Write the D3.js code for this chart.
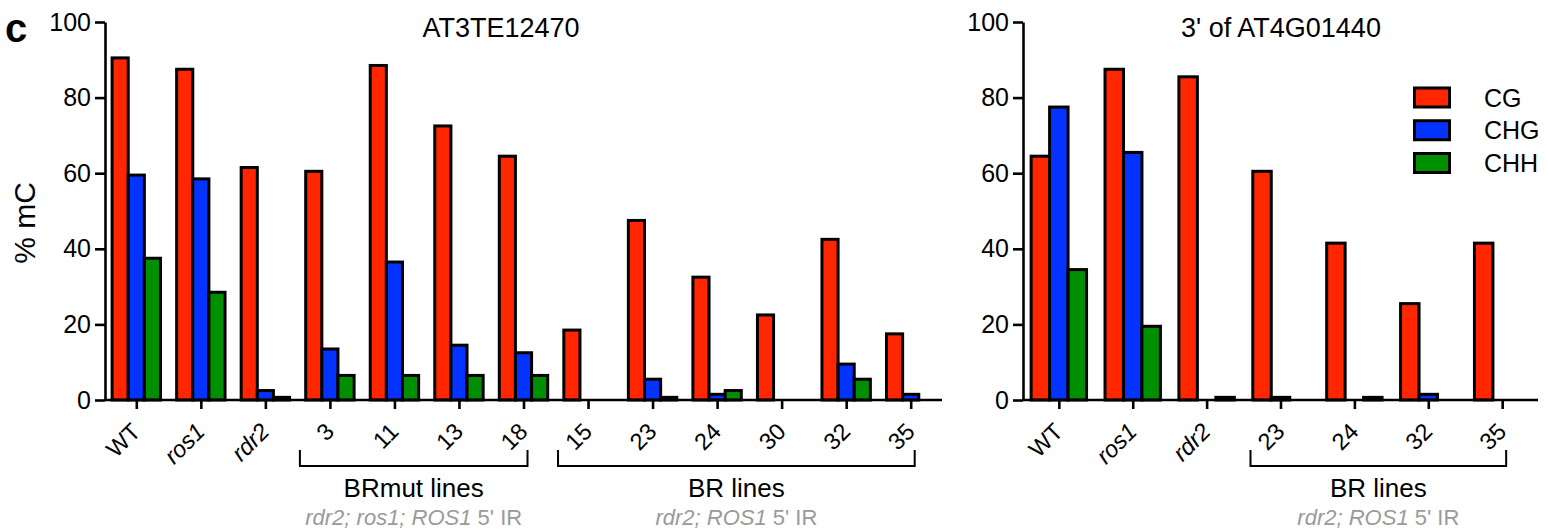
<!DOCTYPE html>
<html>
<head>
<meta charset="utf-8">
<script src="https://cdn.jsdelivr.net/npm/d3@7"></script>
<style>
  html, body { margin: 0; padding: 0; background: #fff; }
  svg text { font-family: "Liberation Sans", Arial, Helvetica, sans-serif; fill: #000; }
</style>
</head>
<body>
<svg id="chart" width="1548" height="529"></svg>
<script>
// Methylation (% mC) per sequence context

// Panel 1: AT3TE12470
const leftCategories = ["WT", "ros1", "rdr2", "3", "11", "13", "18", "15", "23", "24", "30", "32", "35"];
const leftCG  = [90.5, 87.5, 61.5, 60.5, 88.5, 72.5, 64.5, 18.5, 47.5, 32.5, 22.5, 42.5, 17.5];
const leftCHG = [59.5, 58.5, 2.5, 13.5, 36.5, 14.5, 12.5, 0, 5.5, 1.5, 0, 9.5, 1.5];
const leftCHH = [37.5, 28.5, 0.7, 6.5, 6.5, 6.5, 6.5, 0, 0.7, 2.5, 0, 5.5, 0];

// Panel 2: 3' of AT4G01440
const rightCategories = ["WT", "ros1", "rdr2", "23", "24", "32", "35"];
const rightCG  = [64.5, 87.5, 85.5, 60.5, 41.5, 25.5, 41.5];
const rightCHG = [77.5, 65.5, 0, 0.7, 0, 1.5, 0];
const rightCHH = [34.5, 19.5, 0.7, 0, 0.7, 0, 0];

const contexts = ["CG", "CHG", "CHH"];
const yTicks = [0, 20, 40, 60, 80, 100];

const colors = { CG: "#FF2600", CHG: "#0433FF", CHH: "#008F00" };
const italicLabels = new Set(["ros1", "rdr2"]);

const svg = d3.select("#chart");

const y = d3.scaleLinear().domain([0, 100]).range([400, 22]);

function drawPanel(opts) {
  const g = svg.append("g");
  const x0 = d3.scaleBand()
    .domain(opts.categories)
    .range([opts.left, opts.right])
    .paddingInner(0.25)
    .paddingOuter(0.11);
  const x1 = d3.scaleBand().domain(contexts).range([0, x0.bandwidth()]);

  const rows = opts.categories.map((c, i) => ({
    cat: c,
    values: [
      { key: "CG", v: opts.cg[i] },
      { key: "CHG", v: opts.chg[i] },
      { key: "CHH", v: opts.chh[i] }
    ]
  }));

  // bars
  const grp = g.selectAll("g.group").data(rows).join("g")
    .attr("class", "group")
    .attr("transform", d => `translate(${x0(d.cat)},0)`);
  grp.selectAll("rect").data(d => d.values.filter(v => v.v > 0)).join("rect")
    .attr("x", d => x1(d.key))
    .attr("y", d => y(d.v))
    .attr("width", x1.bandwidth())
    .attr("height", d => y(0) - y(d.v))
    .attr("fill", d => colors[d.key])
    .attr("stroke", "#000")
    .attr("stroke-width", 3)
    .attr("stroke-linejoin", "miter");

  // y axis
  const yAxis = g.append("g")
    .attr("transform", `translate(${opts.left},0)`)
    .call(d3.axisLeft(y).tickValues(yTicks).tickSize(10).tickSizeOuter(0).tickPadding(4));
  yAxis.selectAll("path, line").attr("stroke", "#000").attr("stroke-width", 2.6);
  yAxis.selectAll("text").attr("font-size", 25).attr("font-family", "Liberation Sans, Arial, sans-serif");

  // x axis
  const xAxis = g.append("g")
    .attr("transform", `translate(0,${y(0)})`)
    .call(d3.axisBottom(d3.scalePoint().domain(opts.categories)
        .range([x0(opts.categories[0]) + x0.bandwidth() / 2,
                x0(opts.categories[opts.categories.length - 1]) + x0.bandwidth() / 2]))
      .tickSize(9).tickSizeOuter(0));
  xAxis.select(".domain").attr("d", `M${opts.left},0H${opts.right}`);
  xAxis.selectAll("path, line").attr("stroke", "#000").attr("stroke-width", 2.6);
  xAxis.selectAll("text")
    .attr("font-size", 23.5)
    .attr("font-family", "Liberation Sans, Arial, sans-serif")
    .attr("font-style", d => italicLabels.has(d) ? "italic" : "normal")
    .attr("text-anchor", "end")
    .attr("dy", null)
    .attr("y", null)
    .attr("transform", "translate(5,33) rotate(-45)");

  // title
  g.append("text")
    .attr("x", opts.titleX)
    .attr("y", 37)
    .attr("text-anchor", "middle")
    .attr("font-size", 27)
    .text(opts.title);

  // bracketed line groups
  opts.groups.forEach(gr => {
    const xa = x0(gr.from) + x0.bandwidth() / 2 - 30;
    const xb = x0(gr.to) + x0.bandwidth() / 2 + 4;
    g.append("path")
      .attr("d", `M${xa},450V466H${xb}V450`)
      .attr("fill", "none")
      .attr("stroke", "#000")
      .attr("stroke-width", 2);
    const cx = (xa + xb) / 2;
    g.append("text")
      .attr("x", cx).attr("y", 497)
      .attr("text-anchor", "middle")
      .attr("font-size", 26)
      .text(gr.label);
    const sub = g.append("text")
      .attr("x", cx).attr("y", 525)
      .attr("text-anchor", "middle")
      .attr("font-size", 22)
      .style("fill", "#9a9a9a");
    gr.sub.forEach(([t, it]) => {
      sub.append("tspan").attr("font-style", it ? "italic" : "normal").text(t);
    });
  });
}

drawPanel({
  categories: leftCategories, cg: leftCG, chg: leftCHG, chh: leftCHH,
  left: 105, right: 942, title: "AT3TE12470", titleX: 501,
  groups: [
    { from: "3", to: "18", label: "BRmut lines", sub: [["rdr2; ros1; ROS1", true], [" 5' IR", false]] },
    { from: "15", to: "35", label: "BR lines", sub: [["rdr2; ROS1", true], [" 5' IR", false]] }
  ]
});

drawPanel({
  categories: rightCategories, cg: rightCG, chg: rightCHG, chh: rightCHH,
  left: 1023, right: 1538, title: "3' of AT4G01440", titleX: 1281,
  groups: [
    { from: "23", to: "35", label: "BR lines", sub: [["rdr2; ROS1", true], [" 5' IR", false]] }
  ]
});

// y-axis label
svg.append("text")
  .attr("transform", "translate(35,223) rotate(-90)")
  .attr("text-anchor", "middle")
  .attr("font-size", 30)
  .text("% mC");

// panel letter
svg.append("text")
  .attr("x", 5).attr("y", 42)
  .attr("font-size", 40)
  .attr("font-weight", "bold")
  .text("c");

// legend
const legend = svg.append("g").attr("transform", "translate(1413,0)");
const legendY = d3.scalePoint().domain(contexts).range([97.5, 163]);
contexts.forEach(k => {
  legend.append("rect")
    .attr("x", 1.5).attr("y", legendY(k) - 9.5)
    .attr("width", 35).attr("height", 19)
    .attr("fill", colors[k])
    .attr("stroke", "#000").attr("stroke-width", 3);
  legend.append("text")
    .attr("x", 71).attr("y", legendY(k))
    .attr("dy", "0.36em")
    .attr("font-size", 25)
    .text(k);
});
</script>
</body>
</html>
